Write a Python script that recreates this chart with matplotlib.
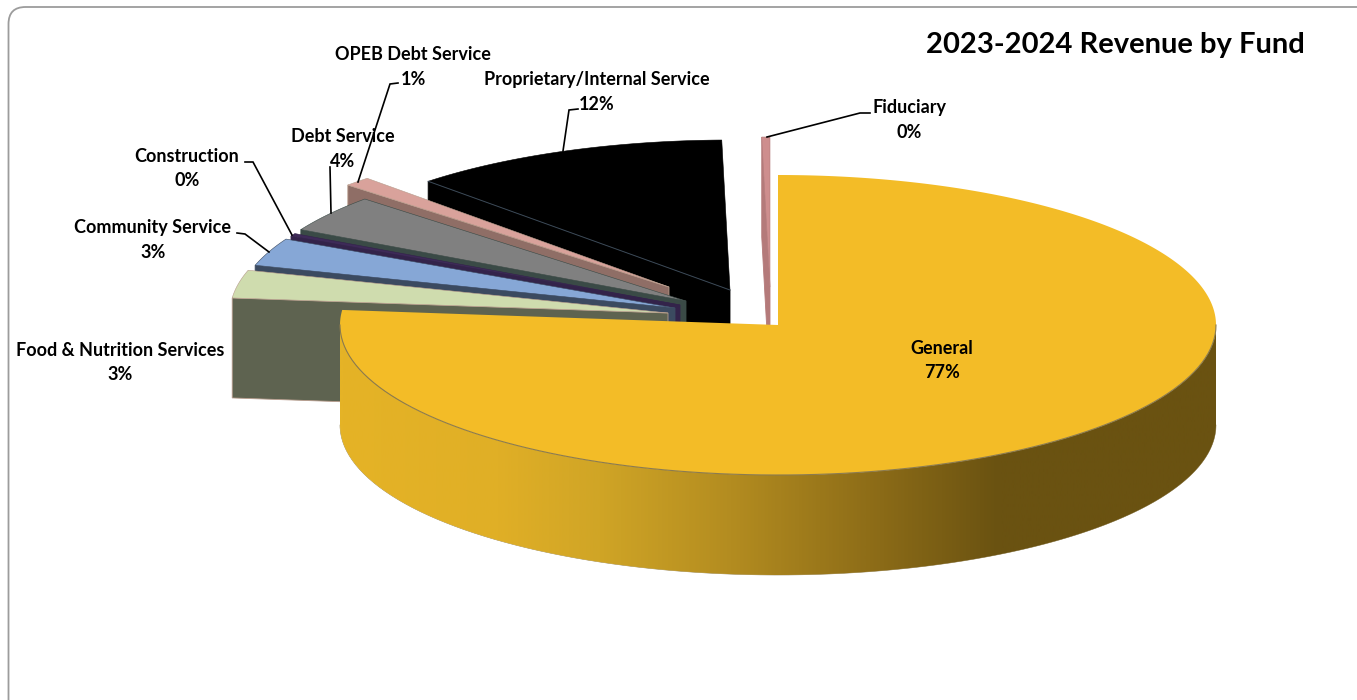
import numpy as np
import matplotlib
matplotlib.use('Agg')
import matplotlib.pyplot as plt
from matplotlib.patches import Polygon, FancyBboxPatch
from matplotlib.colors import LinearSegmentedColormap

plt.rcParams['font.family'] = ['Lato', 'DejaVu Sans']

funds = ['General', 'Food & Nutrition Services', 'Community Service', 'Construction',
         'Debt Service', 'OPEB Debt Service', 'Proprietary/Internal Service', 'Fiduciary']
revenue_pct = [76.6, 3.0, 3.0, 0.3, 4.0, 1.0, 11.8, 0.3]

top_colors = ['#F3BC27', '#CFDCAE', '#86A7D6', '#3E2A58', '#808080', '#D9A29B', '#000000', '#CE8E8E']
side_colors = ['#C99B20', '#5E6350', '#3B4A60', '#33234A', '#3A4A46', '#8F6E66', '#000000', '#B47A7A']

# where each exploded slice's point sits on the page, pixels
apex_x = [778, 668, 675, 680, 686, 669, 730, 770]
apex_y = [325, 313, 308, 305, 301, 287, 290, 287]

# label centre x, name y, percent y
label_x = [942, 120, 153, 187, 343, 413, 597, 909]
label_y = [348, 350, 228, 156, 137, 55, 80, 108]

leaders = [
    ([237, 245, 269], [233, 234, 252]),
    ([245, 253, 292], [162, 162, 235]),
    ([330, 331], [167, 213]),
    ([398, 390, 358], [83, 84, 182]),
    ([578, 569, 563], [109, 110, 151]),
    ([870, 860, 767], [113, 113, 137]),
]

RX, RY, DEPTH = 438, 150, 100


def rim(i, a0, a1, n=200):
    # clockwise degrees from the top of the pie
    a = np.radians(np.linspace(a0, a1, n))
    return np.column_stack([apex_x[i] + RX * np.sin(a), apex_y[i] - RY * np.cos(a)])


fig = plt.figure(figsize=(13.57, 7.0), dpi=100)
ax = fig.add_axes([0, 0, 1, 1])

ax.add_patch(FancyBboxPatch((8.5, 7), 1500, 900, boxstyle='round,pad=0,rounding_size=17',
                            fc='white', ec='#9C9C9C', lw=1.3, zorder=0))

stops = np.cumsum([0] + revenue_pct) * 3.6
starts, ends = stops[:-1], stops[1:]

# back to front: proprietary, fiduciary, then round towards the front left
for z, i in enumerate([6, 7, 5, 4, 3, 2, 1]):
    arc = rim(i, starts[i], ends[i])
    apex = np.array([apex_x[i], apex_y[i]])
    corner = arc[0]
    down = np.array([0, DEPTH])
    cut = np.array([corner, apex, apex + down, corner + down])
    edge = '#B79C8C' if i in (1, 5) else side_colors[i]
    ax.add_patch(Polygon(cut, closed=True, fc=side_colors[i], ec=edge, lw=0.6, zorder=1 + z))
    top = np.vstack([apex, arc])
    ax.add_patch(Polygon(top, closed=True, fc=top_colors[i], ec=edge, lw=0.4, zorder=1 + z))
    if i == 6:
        ax.plot([corner[0], apex[0]], [corner[1], apex[1]], color='#3C4A58', lw=0.7, zorder=1 + z)

# general: outer wall with the light falling off to the right
front = rim(0, 90, starts[0] + 270)
wall = np.vstack([front, front[::-1] + [0, DEPTH]])
wall_cmap = LinearSegmentedColormap.from_list('wall', [
    (0.0, '#E5B326'), (0.18, '#E0AF26'), (0.295, '#D0A526'), (0.447, '#B38C20'),
    (0.6, '#8F6E18'), (0.753, '#6A5211'), (1.0, '#6A5211')])
wall_patch = Polygon(wall, closed=True, fc='none', ec='none', zorder=20)
ax.add_patch(wall_patch)
x_min, x_max = wall[:, 0].min(), wall[:, 0].max()
grad = ax.imshow(np.linspace(0, 1, 1024)[None, :], cmap=wall_cmap, aspect='auto', zorder=20,
                 extent=[x_min, x_max, 700, 0], interpolation='bilinear')
grad.set_clip_path(wall_patch)

general_top = np.vstack([[apex_x[0], apex_y[0]], rim(0, starts[0], ends[0], 500)])
ax.add_patch(Polygon(general_top, closed=True, fc=top_colors[0], ec='none', zorder=21))
ax.plot(front[:, 0], front[:, 1], color='#8C7B4E', lw=0.8, zorder=22)
ax.plot(front[:, 0], front[:, 1] + DEPTH, color='#8C7B4E', lw=0.4, zorder=19)

for xs, ys in leaders:
    ax.plot(xs, ys, color='black', lw=1.2, zorder=25, solid_joinstyle='miter')

for name, pct, lx, ly in zip(funds, revenue_pct, label_x, label_y):
    ax.text(lx, ly, name, ha='center', va='center', fontsize=13, fontweight='bold', color='black', zorder=26)
    ax.text(lx, ly + 24.5, f'{round(pct)}%', ha='center', va='center', fontsize=13, fontweight='bold',
            color='black', zorder=26)

ax.text(1115, 45, '2023-2024 Revenue by Fund', ha='center', va='center', fontsize=21,
        fontweight='bold', color='black', zorder=26)

ax.set_xlim(0, 1357)
ax.set_ylim(700, 0)
ax.axis('off')

fig.savefig('out.png', dpi=100, facecolor='white')
